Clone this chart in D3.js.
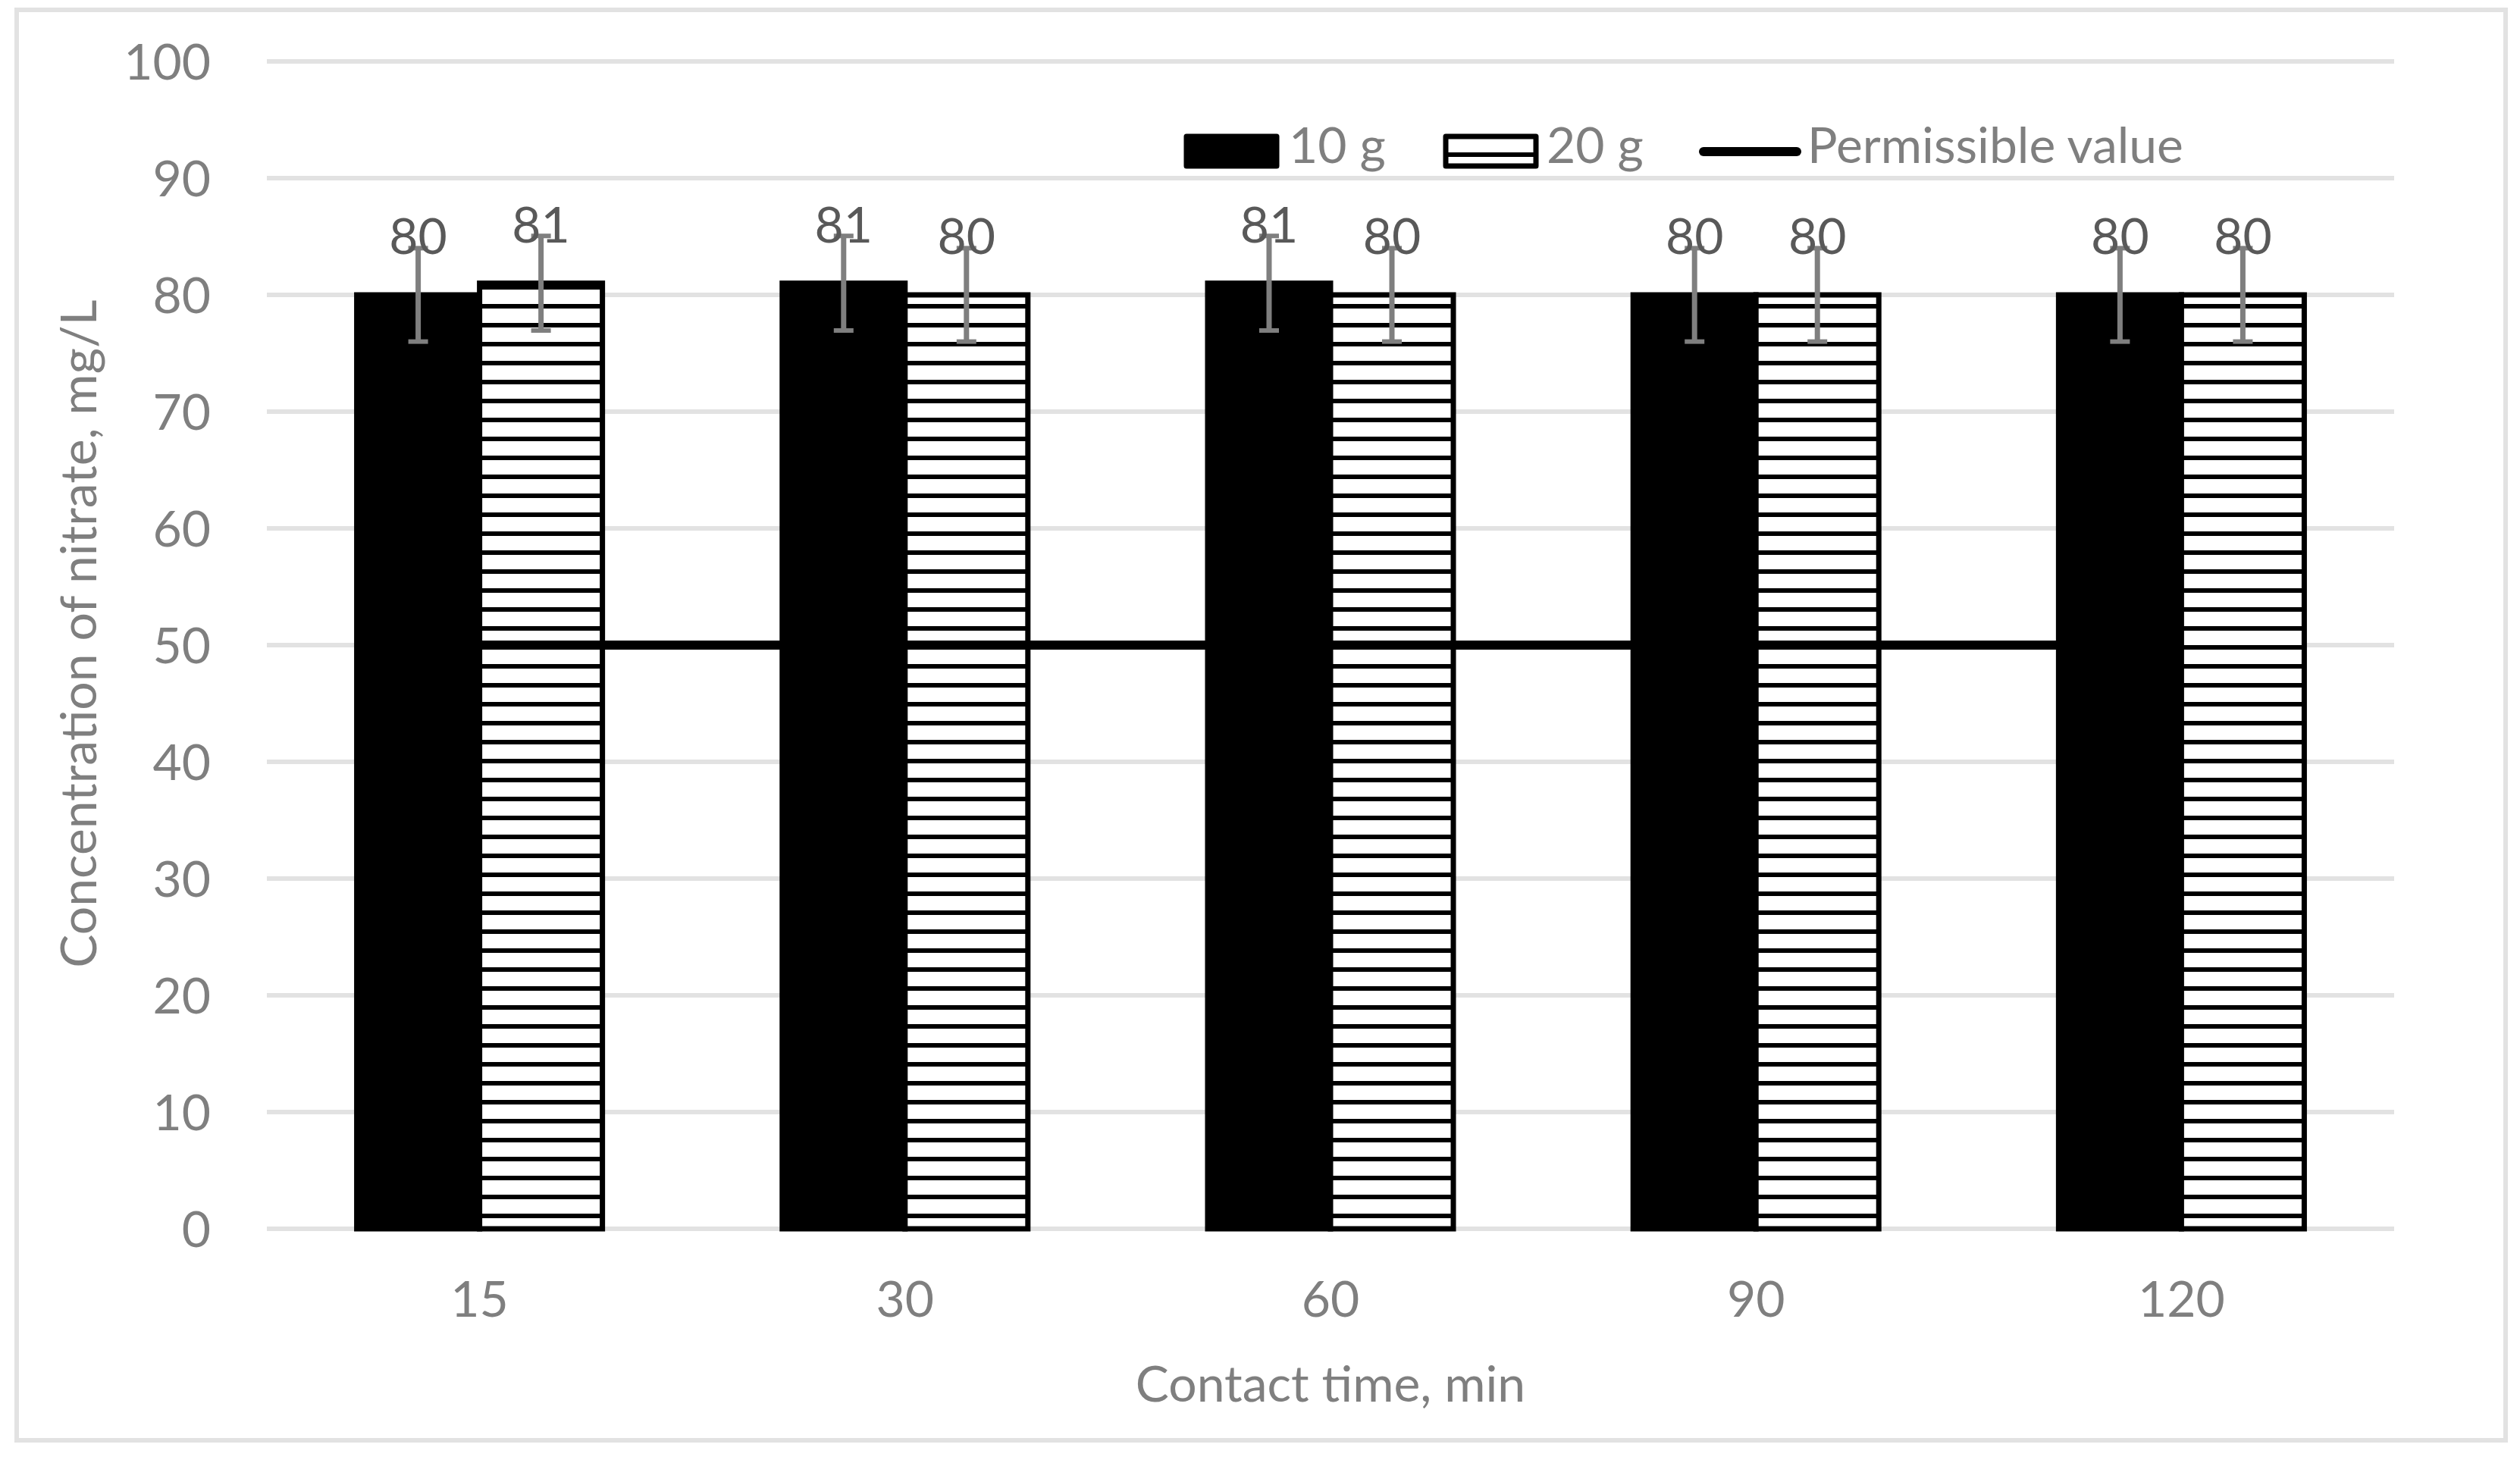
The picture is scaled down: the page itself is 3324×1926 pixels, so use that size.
<!DOCTYPE html>
<html>
<head>
<meta charset="utf-8">
<script src="https://cdn.jsdelivr.net/npm/d3@7"></script>
<style>
  body { margin: 0; background: #fff; }
  text { font-family: Lato, "Open Sans", sans-serif; }
</style>
</head>
<body>
<div id="chart-area"></div>
<script>
// data
var times = ["15", "30", "60", "90", "120"];
var series = ["10 g", "20 g"];
var conc10 = [80, 81, 81, 80, 80];
var conc20 = [81, 80, 80, 80, 80];
var err10 = [4, 4.05, 4.05, 4, 4];
var err20 = [4.05, 4, 4, 4, 4];
var permissible = [50, 50, 50, 50, 50];
var yTicks = [0, 10, 20, 30, 40, 50, 60, 70, 80, 90, 100];

var W = 3324, H = 1926;
var plot = { left: 352, right: 3158, top: 81, bottom: 1621 };
var fontSize = 66;
var grey = "#7f7f7f";

var svg = d3.select("#chart-area")
    .append("svg")
        .attr("width", W)
        .attr("height", H);

// horizontal hatch for the 20 g bars
var defs = svg.append("defs");
var pat = defs.append("pattern")
    .attr("id", "hatch")
    .attr("patternUnits", "userSpaceOnUse")
    .attr("width", 25)
    .attr("height", 25);
pat.append("rect").attr("width", 25).attr("height", 25).attr("fill", "#fff");
pat.append("rect").attr("y", 1).attr("width", 25).attr("height", 6).attr("fill", "#000");

// chart frame
svg.append("rect")
    .attr("x", 22).attr("y", 13)
    .attr("width", 3283).attr("height", 1887)
    .attr("fill", "#fff")
    .attr("stroke", "#e2e2e2")
    .attr("stroke-width", 6);

var x0 = d3.scaleBand()
    .domain(times)
    .range([plot.left, plot.right])
    .paddingInner(0.4226)
    .paddingOuter(0.2113);

var x1 = d3.scaleBand()
    .domain(series)
    .range([0, x0.bandwidth()]);

var y = d3.scaleLinear()
    .domain([0, 100])
    .range([plot.bottom, plot.top]);

// gridlines
svg.append("g").selectAll("line")
    .data(yTicks)
    .join("line")
        .attr("x1", plot.left)
        .attr("x2", plot.right)
        .attr("y1", d => y(d))
        .attr("y2", d => y(d))
        .attr("stroke", "#e2e2e2")
        .attr("stroke-width", 6);

// y axis labels
var yAxis = svg.append("g")
    .attr("transform", "translate(278,0)")
    .call(d3.axisLeft(y).tickValues(yTicks).tickSize(0).tickPadding(0));
yAxis.select(".domain").remove();
yAxis.selectAll("text")
    .attr("x", 0)
    .attr("dy", "0.35em")
    .attr("fill", grey)
    .style("font-size", fontSize + "px")
    .style("font-family", "Lato, sans-serif");

// x axis labels
var xAxis = svg.append("g")
    .attr("transform", "translate(0," + plot.bottom + ")")
    .call(d3.axisBottom(x0).tickSize(0).tickPadding(0));
xAxis.select(".domain").remove();
xAxis.selectAll("text")
    .attr("y", 116)
    .attr("dy", 0)
    .attr("fill", grey)
    .style("font-size", fontSize + "px")
    .style("font-family", "Lato, sans-serif");

// rows for the bars
var rows = [];
times.forEach(function(t, i){
    rows.push({ time: t, s: "10 g", v: conc10[i], e: err10[i] });
    rows.push({ time: t, s: "20 g", v: conc20[i], e: err20[i] });
});

svg.append("g").selectAll("rect")
    .data(rows)
    .join("rect")
        .attr("x", d => x0(d.time) + x1(d.s))
        .attr("y", d => y(d.v))
        .attr("width", x1.bandwidth())
        .attr("height", d => y(0) - y(d.v))
        .attr("fill", d => d.s == "10 g" ? "#000" : "url(#hatch)")
        .attr("stroke", "#000")
        .attr("stroke-width", 7);

// permissible value line
var line = d3.line()
    .x((d, i) => x0(times[i]) + x0.bandwidth() / 2)
    .y(d => y(d));

svg.append("path")
    .datum(permissible)
    .attr("d", line)
    .attr("fill", "none")
    .attr("stroke", "#000")
    .attr("stroke-width", 12);

// error bars
var eb = svg.append("g").selectAll("g")
    .data(rows)
    .join("g")
        .attr("transform", d => "translate(" + (x0(d.time) + x1(d.s) + x1.bandwidth() / 2) + ",0)");

eb.append("line")
    .attr("y1", d => y(d.v + d.e))
    .attr("y2", d => y(d.v - d.e))
    .attr("stroke", grey)
    .attr("stroke-width", 7);
eb.append("line")
    .attr("x1", -13).attr("x2", 13)
    .attr("y1", d => y(d.v + d.e))
    .attr("y2", d => y(d.v + d.e))
    .attr("stroke", grey)
    .attr("stroke-width", 6);
eb.append("line")
    .attr("x1", -13).attr("x2", 13)
    .attr("y1", d => y(d.v - d.e))
    .attr("y2", d => y(d.v - d.e))
    .attr("stroke", grey)
    .attr("stroke-width", 6);

// data labels
eb.append("text")
    .attr("y", d => y(d.v) - 54)
    .attr("text-anchor", "middle")
    .attr("fill", "#595959")
    .style("font-size", fontSize + "px")
    .text(d => Math.round(d.v));

// axis titles
svg.append("text")
    .attr("x", (plot.left + plot.right) / 2)
    .attr("y", 1849)
    .attr("text-anchor", "middle")
    .attr("fill", grey)
    .style("font-size", fontSize + "px")
    .text("Contact time, min");

svg.append("text")
    .attr("transform", "translate(127,836) rotate(-90)")
    .attr("text-anchor", "middle")
    .attr("fill", grey)
    .style("font-size", fontSize + "px")
    .text("Concentration of nitrate, mg/L");

// legend
var legend = svg.append("g");

legend.append("rect")
    .attr("x", 1565).attr("y", 180)
    .attr("width", 119).attr("height", 39)
    .attr("fill", "#000")
    .attr("stroke", "#000")
    .attr("stroke-width", 7)
    .attr("stroke-linejoin", "round");
legend.append("text")
    .attr("x", 1700).attr("y", 215)
    .attr("fill", grey)
    .style("font-size", fontSize + "px")
    .text(series[0]);

legend.append("rect")
    .attr("x", 1907).attr("y", 180)
    .attr("width", 119).attr("height", 39)
    .attr("fill", "url(#hatch)")
    .attr("stroke", "#000")
    .attr("stroke-width", 7)
    .attr("stroke-linejoin", "round");
legend.append("text")
    .attr("x", 2040).attr("y", 215)
    .attr("fill", grey)
    .style("font-size", fontSize + "px")
    .text(series[1]);

legend.append("line")
    .attr("x1", 2247).attr("x2", 2370)
    .attr("y1", 200).attr("y2", 200)
    .attr("stroke", "#000")
    .attr("stroke-width", 12)
    .attr("stroke-linecap", "round");
legend.append("text")
    .attr("x", 2384).attr("y", 215)
    .attr("fill", grey)
    .style("font-size", fontSize + "px")
    .text("Permissible value");
</script>
</body>
</html>
